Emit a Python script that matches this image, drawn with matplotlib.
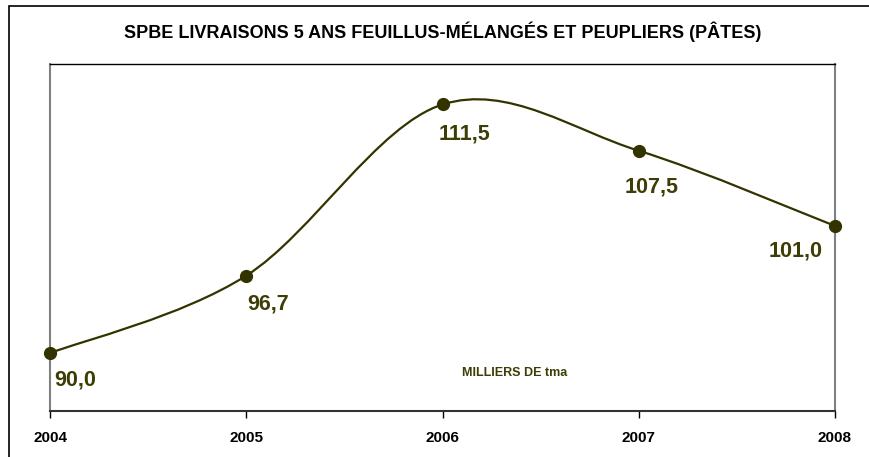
import matplotlib.pyplot as plt
from matplotlib.path import Path
from matplotlib.patches import PathPatch, Rectangle

# data
years = [2004, 2005, 2006, 2007, 2008]
values = [90.0, 96.7, 111.5, 107.5, 101.0]
labels = ['90,0', '96,7', '111,5', '107,5', '101,0']

title = 'SPBE LIVRAISONS 5 ANS FEUILLUS-MÉLANGÉS ET PEUPLIERS (PÂTES)'
unit = 'MILLIERS DE tma'

olive = '#333300'
label_col = '#3d3d05'

plt.rcParams['font.family'] = ['Liberation Sans', 'DejaVu Sans']

fig = plt.figure(figsize=(8.69, 4.57), dpi=100)
ax = fig.add_axes([50 / 869, 46 / 457, 785 / 869, 347 / 457])

# smoothed line (bezier, like excel's smoothing)
pts = list(zip(years, values))
verts = [pts[0]]
codes = [Path.MOVETO]
for i in range(len(pts) - 1):
    p0 = pts[max(i - 1, 0)]
    p1 = pts[i]
    p2 = pts[i + 1]
    p3 = pts[min(i + 2, len(pts) - 1)]
    c1 = (p1[0] + (p2[0] - p0[0]) / 6, p1[1] + (p2[1] - p0[1]) / 6)
    c2 = (p2[0] - (p3[0] - p1[0]) / 6, p2[1] - (p3[1] - p1[1]) / 6)
    verts += [c1, c2, p2]
    codes += [Path.CURVE4] * 3
ax.add_patch(PathPatch(Path(verts, codes), fill=False, edgecolor=olive, lw=1.6, zorder=2))

ax.plot(years, values, 'o', color=olive, markersize=8.5, zorder=3, clip_on=False)

# label offsets in pixels (dx, dy)
offsets = [(25, -27), (22, -28), (22, -30), (13, -36), (-39, -25)]
for x, y, lab, off in zip(years, values, labels, offsets):
    ax.annotate(lab, (x, y), xytext=off, textcoords='offset pixels',
                ha='center', va='center', fontsize=15.5, fontweight='bold',
                color=label_col)

ax.text(0.592, 0.11, unit, transform=ax.transAxes, ha='center', va='center',
        fontsize=9, fontweight='bold', color=label_col)

ax.set_xlim(2004, 2008)
ax.set_ylim(85, 115)
ax.set_xticks(years)
ax.set_xticklabels([str(y) for y in years], fontsize=11, fontweight='bold')
ax.set_yticks([])
ax.tick_params(axis='x', direction='out', length=5, width=1, pad=9.5, color='black')

ax.spines['top'].set_color('black')
ax.spines['top'].set_linewidth(1.0)
ax.spines['bottom'].set_color('#333333')
ax.spines['bottom'].set_linewidth(1.5)
for s in ['left', 'right']:
    ax.spines[s].set_color('#808080')
    ax.spines[s].set_linewidth(1.5)

fig.text(443 / 869, 1 - 32 / 457, title, ha='center', va='center',
         fontsize=13, fontweight='bold')

# outer frame of the chart
fig.patches.append(Rectangle((9 / 869, -0.1), 1.0, 1.1 - 6 / 457, transform=fig.transFigure,
                             fill=False, edgecolor='black', lw=1.2))

fig.savefig('out.png', dpi=100)
